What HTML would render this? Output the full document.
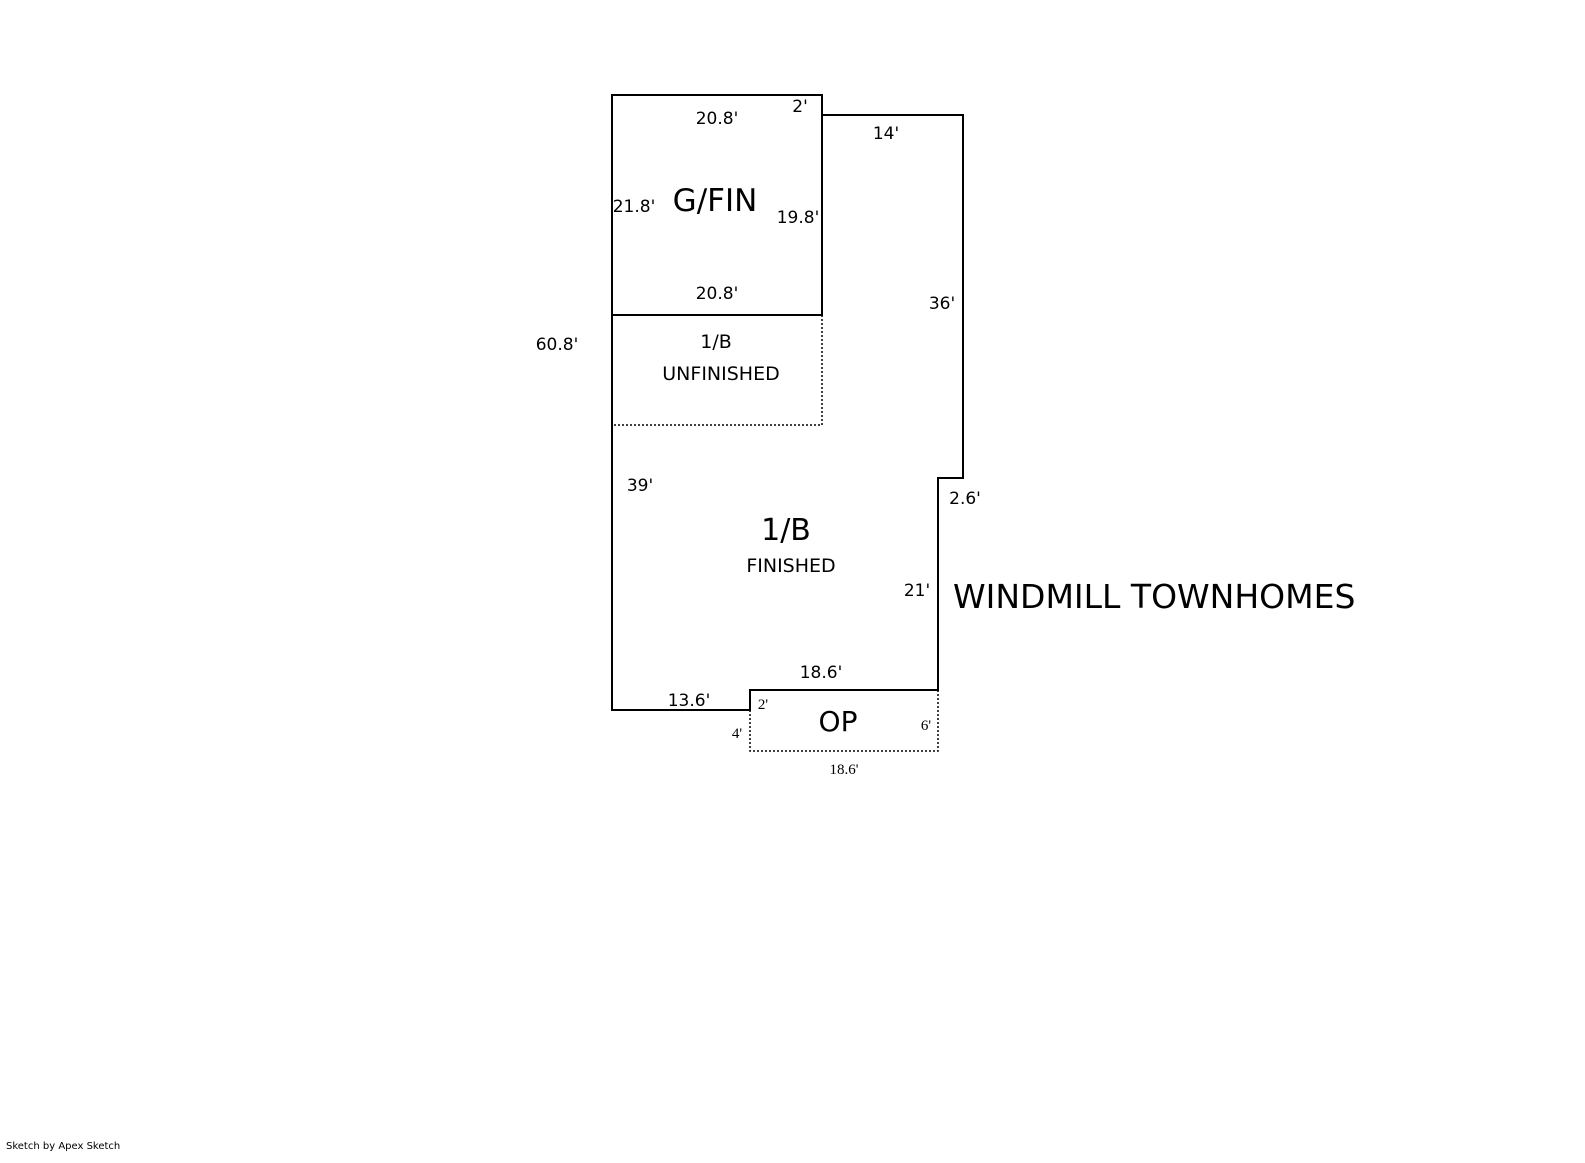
<!DOCTYPE html>
<html><head><style>
html,body{margin:0;padding:0;background:#fff;overflow:hidden;width:1585px;height:1163px;}
svg{display:block;}
svg text{font-family:"DejaVu Sans","Liberation Sans",sans-serif;fill:#000;}
</style></head><body>
<svg width="1585" height="1163" xmlns="http://www.w3.org/2000/svg">
<g fill="none" stroke="#000" stroke-width="2">
<rect x="612" y="95" width="210" height="220"/>
<path d="M822 115 H963 V478 H938 V690 H750 V710 H612 V315"/>
</g>
<g fill="none" stroke="#000" stroke-width="1.5" stroke-dasharray="2,2">
<path d="M822 315 V425 H612"/>
<path d="M750 710 V751 H938 V690"/>
</g>
<g font-size="17" text-anchor="middle">
<text x="717" y="124">20.8'</text>
<text x="800" y="112">2'</text>
<text x="886" y="139">14'</text>
<text x="634" y="212">21.8'</text>
<text x="798" y="223">19.8'</text>
<text x="717" y="299">20.8'</text>
<text x="942" y="309">36'</text>
<text x="557" y="350">60.8'</text>
<text x="640" y="491">39'</text>
<text x="965" y="504">2.6'</text>
<text x="917" y="596">21'</text>
<text x="821" y="678">18.6'</text>
<text x="689" y="706">13.6'</text>
</g>
<g font-size="19" text-anchor="middle">
<text x="716" y="348">1/B</text>
<text x="721" y="380">UNFINISHED</text>
<text x="791" y="572">FINISHED</text>
</g>
<g font-size="15" text-anchor="middle">
<text x="763" y="709" style="font-family:'Liberation Serif',serif">2'</text>
<text x="737" y="738" style="font-family:'Liberation Serif',serif">4'</text>
<text x="926" y="730" style="font-family:'Liberation Serif',serif">6'</text>
<text x="844" y="774" style="font-family:'Liberation Serif',serif">18.6'</text>
</g>
<text x="715" y="211" font-size="31" text-anchor="middle">G/FIN</text>
<text x="786" y="540" font-size="30" text-anchor="middle">1/B</text>
<text x="838" y="731" font-size="28" text-anchor="middle">OP</text>
<text x="953" y="608" font-size="33">WINDMILL TOWNHOMES</text>
<text x="6" y="1149" font-size="10">Sketch by Apex Sketch</text>
</svg>
</body></html>
